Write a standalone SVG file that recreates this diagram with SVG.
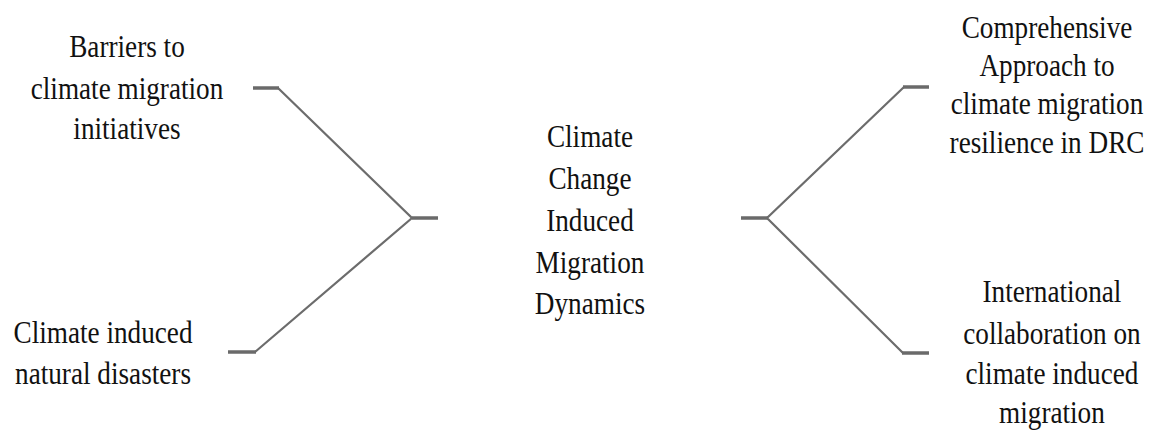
<svg xmlns="http://www.w3.org/2000/svg" width="1161" height="435" viewBox="0 0 1161 435">
  <style>
    .label { font-family: "Liberation Serif", "Times New Roman", serif; font-size: 32px; fill: #111; text-anchor: middle; }
    .branch { fill: none; stroke: #6c6c6c; stroke-width: 2.2; stroke-linejoin: miter; }
    .stub { fill: none; stroke: #6a6a6a; stroke-width: 3.5; }
  </style>
  <rect width="1161" height="435" fill="#ffffff"/>

  <!-- connectors: two bracket-shaped forks joining the side topics to the centre -->
  <g id="connectors">
    <!-- left fork -->
    <path class="branch" d="M278,88 L412,218 L255,352"/>
    <path class="stub" d="M253,88 H279"/>
    <path class="stub" d="M228,352 H256"/>
    <path class="stub" d="M412,218 H438"/>
    <!-- right fork -->
    <path class="branch" d="M904,87 L767,218 L903,353"/>
    <path class="stub" d="M741,218 H768"/>
    <path class="stub" d="M903,87 H929"/>
    <path class="stub" d="M902,353 H929"/>
  </g>

  <!-- labels use a narrow, tall face: horizontal scale 0.85, x given in scaled units -->
  <g id="node-barriers" transform="scale(0.85,1)">
    <text class="label" x="149.4" y="57">Barriers to</text>
    <text class="label" x="149.4" y="99">climate migration</text>
    <text class="label" x="149.4" y="139">initiatives</text>
  </g>

  <g id="node-disasters" transform="scale(0.85,1)">
    <text class="label" x="121.2" y="343">Climate induced</text>
    <text class="label" x="121.2" y="384">natural disasters</text>
  </g>

  <g id="node-centre" transform="scale(0.85,1)">
    <text class="label" x="694.1" y="147">Climate</text>
    <text class="label" x="694.1" y="189">Change</text>
    <text class="label" x="694.1" y="231">Induced</text>
    <text class="label" x="694.1" y="273">Migration</text>
    <text class="label" x="694.1" y="314">Dynamics</text>
  </g>

  <g id="node-approach" transform="scale(0.85,1)">
    <text class="label" x="1231.8" y="38">Comprehensive</text>
    <text class="label" x="1231.8" y="76">Approach to</text>
    <text class="label" x="1231.8" y="114">climate migration</text>
    <text class="label" x="1231.8" y="153">resilience in DRC</text>
  </g>

  <g id="node-collaboration" transform="scale(0.85,1)">
    <text class="label" x="1237.6" y="302">International</text>
    <text class="label" x="1237.6" y="344">collaboration on</text>
    <text class="label" x="1237.6" y="384">climate induced</text>
    <text class="label" x="1237.6" y="423">migration</text>
  </g>
</svg>
